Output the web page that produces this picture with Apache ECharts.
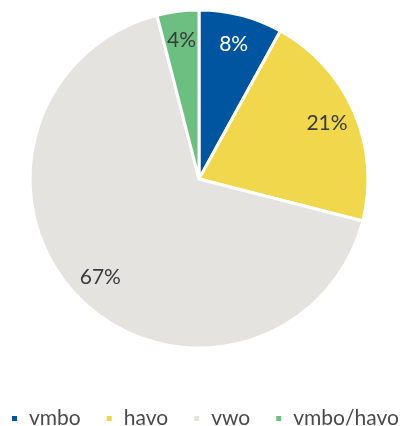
<!DOCTYPE html>
<html><head><meta charset="utf-8">
<script src="https://cdn.jsdelivr.net/npm/echarts@6/dist/echarts.min.js"></script>
<style>html,body{margin:0;padding:0;background:#fff}#c{width:408px;height:426px}</style>
</head><body><div id="c"></div>
<script>
const categories = ['vmbo', 'havo', 'vwo', 'vmbo/havo'];
const values = [8, 21, 67, 4];
const colors = ['#0055A0', '#F0D74B', '#E5E3DF', '#6CBF80'];
const labelColors = ['#ffffff', '#3a3a3a', '#3a3a3a', '#3a3a3a'];

const chart = echarts.init(document.getElementById('c'));
const data = categories.map((n, i) => ({ name: n, value: values[i], itemStyle: { color: colors[i] } }));
const labelData = categories.map((n, i) => ({ name: n, value: values[i], label: { color: labelColors[i] } }));
chart.setOption({
  animation: false,
  legend: {
    bottom: -5, left: 8, width: 400, padding: 2,
    itemWidth: 7, itemHeight: 7, itemGap: 24,
    icon: 'rect',
    textStyle: { fontFamily: 'Lato', fontSize: 21, fontWeight: 'normal', color: '#4a4a4a', padding: [0, 0, 0, 6] },
    data: categories
  },
  series: [{
    type: 'pie', center: [199, 179], radius: [0, 169],
    startAngle: 90, clockwise: true,
    itemStyle: { borderColor: '#fff', borderWidth: 3 },
    label: { show: false }, labelLine: { show: false },
    data: data
  }, {
    type: 'pie', center: [199, 179], radius: [104, 169],
    startAngle: 90, clockwise: true, silent: true,
    itemStyle: { color: 'transparent', borderWidth: 0 },
    label: { show: true, position: 'inside', formatter: '{c}%', fontFamily: 'Lato', fontSize: 21, fontWeight: 'normal', textBorderWidth: 0 },
    labelLine: { show: false },
    data: labelData
  }]
});
</script></body></html>
